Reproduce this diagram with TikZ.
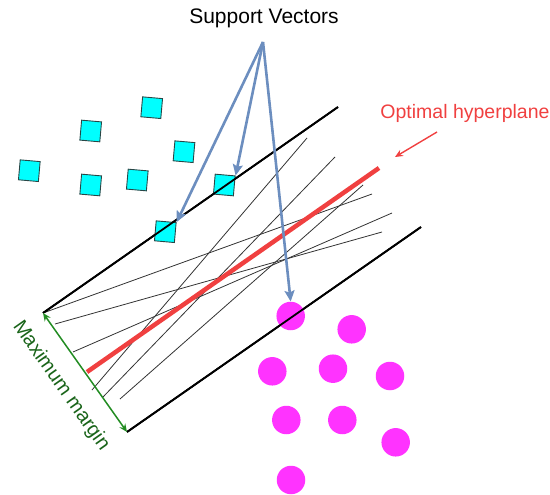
\documentclass[tikz,border=0pt]{standalone}
\usepackage{fontspec}
\setmainfont{Liberation Sans}
\usetikzlibrary{arrows.meta}
\definecolor{squareedge}{RGB}{40,70,70}
\definecolor{squarefill}{RGB}{0,255,255}
\definecolor{dotmag}{RGB}{255,51,255}
\definecolor{hyperred}{RGB}{240,64,64}
\definecolor{svblue}{RGB}{108,142,191}
\definecolor{margingreen}{RGB}{34,140,34}
\definecolor{margintext}{RGB}{25,100,25}
\begin{document}
\begin{tikzpicture}[x=1pt,y=-1pt,
  posclass/.style={draw=squareedge, fill=squarefill, line width=0.9pt,
    minimum size=20pt, inner sep=0pt, rotate=-5},
  negclass/.style={circle, fill=dotmag, minimum size=28.5pt, inner sep=0pt},
  marginline/.style={line width=1.8pt, black},
  candidate/.style={line width=0.8pt, black!80},
  optimal/.style={line width=4.5pt, hyperred},
  pointer/.style={line width=2.6pt, svblue,
    -{Stealth[length=11pt,width=10pt,inset=2pt]}},
  label/.style={font=\fontsize{21}{25}\selectfont, inner sep=0pt}]
\useasboundingbox (0,0) rectangle (550,495);

% candidate separating lines
\coordinate (c1a) at (43,313);   \coordinate (c1b) at (372,194);
\coordinate (c2a) at (55,324);   \coordinate (c2b) at (382,232);
\coordinate (c3a) at (73,352);   \coordinate (c3b) at (392,213);
\coordinate (c4a) at (92,390);   \coordinate (c4b) at (307,138);
\coordinate (c5a) at (103,397);  \coordinate (c5b) at (335,157);
\coordinate (c6a) at (120,399);  \coordinate (c6b) at (363,185);
\foreach \i in {1,...,6} \draw[candidate] (c\i a) -- (c\i b);

% margin boundaries
\coordinate (upA) at (43,313);  \coordinate (upB) at (338,107);
\coordinate (loA) at (127,432); \coordinate (loB) at (421,227);
\draw[marginline] (upA) -- (upB);
\draw[marginline] (loA) -- (loB);

% optimal hyperplane
\coordinate (optA) at (87,372); \coordinate (optB) at (379,168);
\draw[optimal] (optA) -- (optB);

% class one: squares
\node[posclass] (p1) at (151.7,107.7) {};
\node[posclass] (p2) at (90.7,131) {};
\node[posclass] (p3) at (184,151.7) {};
\node[posclass] (p4) at (29.3,170.7) {};
\node[posclass] (p5) at (90.7,185) {};
\node[posclass] (p6) at (137.3,180) {};
\node[posclass] (sv2) at (224.3,185) {};
\node[posclass] (sv1) at (165.3,231.7) {};

% class two: dots
\node[negclass] (sv3) at (290.7,316) {};
\node[negclass] (n1) at (351.7,329.3) {};
\node[negclass] (n2) at (272.3,371.3) {};
\node[negclass] (n3) at (333,368.7) {};
\node[negclass] (n4) at (390,376) {};
\node[negclass] (n5) at (286.3,420) {};
\node[negclass] (n6) at (342.3,420) {};
\node[negclass] (n7) at (395.7,442.3) {};
\node[negclass] (n8) at (291,480) {};

% redraw boundary segments over the support vectors
\draw[marginline] (upA) -- (upB);
\draw[marginline] (loA) -- (loB);

% support vector pointers
\node[label] (svtitle) at (264,18) {Support Vectors};
\coordinate (apex) at (263,42);
\draw[pointer] (apex) -- (sv1.north east);
\draw[pointer] (apex) -- (sv2.north east);
\draw[pointer] (apex) -- (sv3.north);

% optimal hyperplane label
\node[label, text=hyperred, font=\fontsize{19.5}{24}\selectfont] (opttitle) at (465,113) {Optimal hyperplane};
\coordinate (optTail) at (437,132);
\coordinate (optTip) at (395,157);
\draw[hyperred, line width=1.4pt, -{Stealth[length=8pt,width=7pt]}] (optTail) -- (optTip);

% maximum margin
\draw[margingreen, line width=1.5pt,
  {Stealth[length=8pt,width=7pt]}-{Stealth[length=8pt,width=7pt]}] (upA) -- (loA);
\node[label, text=margintext, font=\fontsize{20}{24}\selectfont, rotate=-54.8] (mtitle) at (61,386) {Maximum margin};
\end{tikzpicture}
\end{document}
